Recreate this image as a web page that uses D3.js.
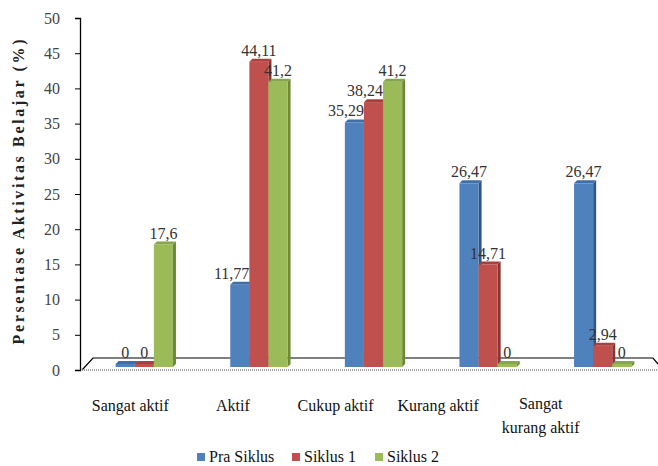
<!DOCTYPE html>
<html>
<head>
<meta charset="utf-8">
<script src="https://cdn.jsdelivr.net/npm/d3@7"></script>
</head>
<body style="margin:0; background:#fff">
<div id="chart"></div>
<script>
var categories = ["Sangat aktif", "Aktif", "Cukup aktif", "Kurang aktif", "Sangat kurang aktif"];
var seriesNames = ["Pra Siklus", "Siklus 1", "Siklus 2"];
var praSiklus = [0, 11.77, 35.29, 26.47, 26.47];
var siklus1 = [0, 44.11, 38.24, 14.71, 2.94];
var siklus2 = [17.6, 41.2, 41.2, 0, 0];
var yTicks = [0, 5, 10, 15, 20, 25, 30, 35, 40, 45, 50];

var colors = ["#4F81BD", "#C0504D", "#9BBB59"];
var sideColors = ["#2f5486", "#8a3331", "#6b8a35"];
var topColors = ["#3f6ea8", "#a8403d", "#86a64a"];
var serif = "'Liberation Serif'";

var width = 658, height = 466;
var svg = d3.select("#chart").append("svg")
    .attr("width", width)
    .attr("height", height);

var fmt = function (v) { return String(v).replace(".", ","); };

// axis scale (front plane) and bar scale (mid depth)
var y = d3.scaleLinear().domain([0, 50]).range([370, 18]);
var yBar = d3.scaleLinear().domain([0, 50]).range([366, 21]);

var x0 = d3.scaleBand().domain(categories).range([87, 660]).paddingInner(0.5).paddingOuter(0.25);
var x1 = d3.scaleBand().domain(seriesNames).range([0, x0.bandwidth()]);
var xLabel = d3.scaleBand().domain(categories).range([79, 592]);

// floor
var floor = svg.append("g");
floor.append("path")
    .attr("d", "M82,370 L93,358 L653,358 L658,364")
    .attr("fill", "none").attr("stroke", "#000").attr("stroke-width", 1.2);
floor.append("line")
    .attr("x1", 80).attr("x2", 658).attr("y1", 370).attr("y2", 370)
    .attr("stroke", "#888").attr("stroke-width", 1.5).attr("stroke-dasharray", "1,1");

// y axis
var yAxis = svg.append("g")
    .attr("transform", "translate(80,0)")
    .call(d3.axisLeft(y).tickValues(yTicks).tickSize(5).tickPadding(15));
yAxis.attr("font-family", null).attr("font-size", null);
yAxis.select(".domain").attr("stroke", "#000").attr("stroke-width", 1.3);
yAxis.selectAll(".tick line").attr("stroke", "#000");
yAxis.selectAll(".tick text")
    .style("font-family", serif)
    .attr("font-size", 16)
    .attr("fill", "#444");

svg.append("text")
    .attr("transform", "translate(24,192) rotate(-90)")
    .attr("text-anchor", "middle")
    .style("font-family", serif)
    .attr("font-size", 16)
    .attr("font-weight", "bold")
    .attr("textLength", 305)
    .attr("lengthAdjust", "spacing")
    .attr("fill", "#222")
    .text("Persentase Aktivitas Belajar (%)");

// bars
var series = [praSiklus, siklus1, siklus2];
var bars = [];
categories.forEach(function (c, i) {
    series.forEach(function (s, j) {
        bars.push({cat: c, i: i, s: j, name: seriesNames[j], v: s[i]});
    });
});

var depth = 3;
var g = svg.append("g").selectAll("g").data(bars).enter().append("g");
g.each(function (d) {
    var el = d3.select(this);
    var bx = x0(d.cat) + x1(d.name);
    var bw = x1.bandwidth();
    var top = Math.min(yBar(d.v), yBar(0) - 2);
    var bottom = yBar(0) + 1;
    el.append("path")
        .attr("d", "M" + (bx + bw) + "," + top + " l" + depth + "," + (-depth) +
            " L" + (bx + bw + depth) + "," + (bottom - depth) + " L" + (bx + bw) + "," + bottom + "Z")
        .attr("fill", sideColors[d.s]);
    el.append("rect")
        .attr("x", bx).attr("y", top)
        .attr("width", bw).attr("height", bottom - top)
        .attr("fill", colors[d.s]);
    el.append("path")
        .attr("d", "M" + bx + "," + top + " l" + depth + "," + (-depth) + " l" + bw + ",0 l" + (-depth) + "," + depth + "Z")
        .attr("fill", topColors[d.s]);
});

// value labels, nudged left when the next bar in the group is taller
svg.append("g").selectAll("text").data(bars).enter().append("text")
    .style("font-family", serif)
    .attr("font-size", 16)
    .attr("fill", "#333")
    .attr("y", function (d) { return Math.min(yBar(d.v), yBar(0) - 2) - 6; })
    .text(function (d) { return fmt(d.v); })
    .each(function (d) {
        var t = d3.select(this);
        var bx = x0(d.cat) + x1(d.name);
        var bw = x1.bandwidth();
        var w = this.getComputedTextLength();
        var next = d.s < 2 ? series[d.s + 1][d.i] : null;
        if (next !== null && next > d.v && w > bw) {
            t.attr("x", bx + bw).attr("text-anchor", "end");
        } else {
            t.attr("x", bx + bw / 2).attr("text-anchor", "middle");
        }
    });

// category labels
var cat = svg.append("g").selectAll("text").data(categories).enter().append("text")
    .attr("x", function (d) { return xLabel(d) + xLabel.bandwidth() / 2; })
    .attr("y", 411)
    .attr("text-anchor", "middle")
    .style("font-family", serif)
    .attr("font-size", 16)
    .attr("fill", "#111");
cat.each(function (d) {
    var t = d3.select(this);
    if (d === "Sangat kurang aktif") {
        t.append("tspan").attr("x", t.attr("x")).attr("dy", -2).text("Sangat");
        t.append("tspan").attr("x", t.attr("x")).attr("dy", 24).text("kurang aktif");
    } else {
        t.text(d);
    }
});

// legend
var legendX = [197, 292, 375];
var lg = svg.append("g").selectAll("g").data(seriesNames).enter().append("g")
    .attr("transform", function (d, i) { return "translate(" + legendX[i] + ",453)"; });
lg.append("rect").attr("width", 8).attr("height", 8)
    .attr("fill", function (d, i) { return colors[i]; });
lg.append("text").attr("x", 12).attr("y", 9)
    .style("font-family", serif)
    .attr("font-size", 16)
    .attr("fill", "#111")
    .text(function (d) { return d; });
</script>
</body>
</html>
